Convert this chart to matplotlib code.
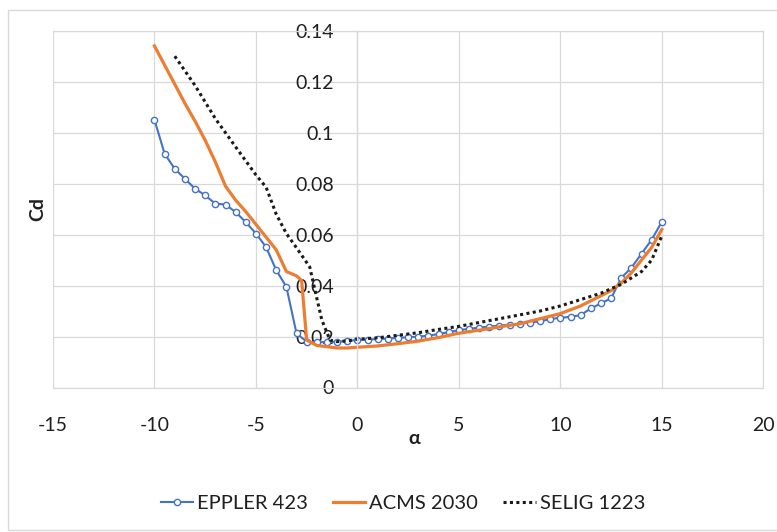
import matplotlib
matplotlib.use('Agg')
import matplotlib.pyplot as plt
from matplotlib.lines import Line2D
from matplotlib.patches import Rectangle

plt.rcParams['font.family'] = ['Lato', 'DejaVu Sans']

# EPPLER 423
alpha_e = [-10, -9.5, -9, -8.5, -8, -7.5, -7, -6.5, -6, -5.5, -5, -4.5, -4, -3.5, -3,
           -2.5, -2, -1.5, -1, -0.5, 0, 0.5, 1, 1.5, 2, 2.5, 3, 3.5, 4, 4.5, 5,
           5.5, 6, 6.5, 7, 7.5, 8, 8.5, 9, 9.5, 10, 10.5, 11, 11.5, 12, 12.5, 13,
           13.5, 14, 14.5, 15]
cd_e = [0.105, 0.0917, 0.0858, 0.0819, 0.078, 0.0754, 0.0721, 0.0718, 0.0688, 0.0649,
        0.0604, 0.0551, 0.046, 0.0395, 0.0212, 0.018, 0.0178, 0.0178, 0.018, 0.0182,
        0.0187, 0.0188, 0.019, 0.0192, 0.0195, 0.0197, 0.020, 0.0203, 0.021, 0.0217,
        0.0225, 0.023, 0.0235, 0.0239, 0.0243, 0.0247, 0.025, 0.0255, 0.026, 0.0268,
        0.0274, 0.0277, 0.0284, 0.031, 0.033, 0.035, 0.043, 0.047, 0.0525, 0.058, 0.065]

# ACMS 2030
alpha_a = [-10, -9.5, -9, -8.5, -8, -7.5, -7, -6.5, -6, -5.5, -5, -4.5, -4, -3.5, -3,
           -2.75, -2.5, -2, -1.5, -1, -0.5, 0, 1, 2, 3, 4, 5, 6, 7, 8, 9, 10, 11, 12,
           12.5, 13, 13.5, 14, 14.5, 15]
cd_a = [0.134, 0.1265, 0.119, 0.1115, 0.1045, 0.097, 0.0885, 0.079, 0.0735, 0.069,
        0.064, 0.059, 0.054, 0.0455, 0.0438, 0.042, 0.0186, 0.0165, 0.016, 0.0155,
        0.0155, 0.0158, 0.0163, 0.0172, 0.0182, 0.0196, 0.0213, 0.0225, 0.0238, 0.025,
        0.027, 0.029, 0.032, 0.036, 0.038, 0.041, 0.045, 0.050, 0.055, 0.062]

# SELIG 1223
alpha_s = [-9, -8, -7, -6, -5, -4.5, -4, -3.5, -3, -2.35, -2, -1.75, -1.35, -1, -0.5, 0,
           1, 2, 3, 4, 5, 6, 7, 8, 9, 10, 11, 12, 13, 13.5, 14, 14.5, 15]
cd_s = [0.130, 0.1185, 0.1055, 0.0944, 0.0834, 0.0786, 0.068, 0.0604, 0.0548, 0.0473,
        0.035, 0.0264, 0.0186, 0.018, 0.0183, 0.0189, 0.0195, 0.0205, 0.0215, 0.0228,
        0.024, 0.0255, 0.027, 0.0285, 0.030, 0.032, 0.0345, 0.037, 0.0405, 0.043,
        0.0455, 0.050, 0.0595]

x_ticks = [-15, -10, -5, 0, 5, 10, 15, 20]
x_labels = ['-15', '-10', '-5', '0', '5', '10', '15', '20']
y_ticks = [0, 0.02, 0.04, 0.06, 0.08, 0.1, 0.12, 0.14]
y_labels = ['0', '0.02', '0.04', '0.06', '0.08', '0.1', '0.12', '0.14']

blue = '#4472C4'
orange = '#ED7D31'
grid = '#D9D9D9'
txt = '#1f1f1f'

fig = plt.figure(figsize=(7.77, 5.32), dpi=100)
ax = fig.add_axes([53/777, 1 - 387.5/532, (763.3 - 53)/777, (387.5 - 30.7)/532])

ax.plot(alpha_e, cd_e, color=blue, lw=1.5, marker='o', markersize=4.5,
        markerfacecolor='white', markeredgecolor=blue, markeredgewidth=1.0)
ax.plot(alpha_a, cd_a, color=orange, lw=2.3, solid_joinstyle='round')
ax.plot(alpha_s, cd_s, color='#1a1a1a', lw=2.2, linestyle=(0, (1, 1.1)))

ax.set_xlim(-15, 20)
ax.set_ylim(0, 0.14)
ax.set_xticks(x_ticks)
ax.set_xticklabels(x_labels)
ax.set_yticks(y_ticks)
ax.set_yticklabels(y_labels)
ax.grid(True, color=grid, lw=0.9)
ax.set_axisbelow(True)

for s in ax.spines.values():
    s.set_color(grid)
    s.set_linewidth(0.9)
ax.spines['left'].set_position(('data', 0))

ax.tick_params(axis='both', length=0, labelsize=14, colors=txt)
ax.tick_params(axis='y', pad=17)
ax.tick_params(axis='x', pad=21)

fig.text(38/777, 1 - 209/532, 'Cd', rotation=90, ha='center', va='center',
         fontsize=14, fontweight='bold', color=txt)
fig.text(414/777, 1 - 439/532, 'α', ha='center', va='center',
         fontsize=14, fontweight='bold', color=txt)

handles = [
    Line2D([], [], color=blue, lw=1.5, marker='o', markersize=4.5,
           markerfacecolor='white', markeredgecolor=blue),
    Line2D([], [], color=orange, lw=2.3),
    Line2D([], [], color='#1a1a1a', lw=2.2, linestyle=(0, (1, 1.1))),
]
fig.legend(handles, ['EPPLER 423', 'ACMS 2030', 'SELIG 1223'], loc='center',
           bbox_to_anchor=(403/777, 1 - 503/532), ncol=3, frameon=False,
           fontsize=14.5, handlelength=1.6, handletextpad=0.2, columnspacing=1.25,
           labelcolor=txt)

fig.patches.append(Rectangle((8/777, 2/532), 1.0, 520/532, transform=fig.transFigure,
                             fill=False, edgecolor=grid, lw=1))

fig.savefig('out.png', dpi=100)
